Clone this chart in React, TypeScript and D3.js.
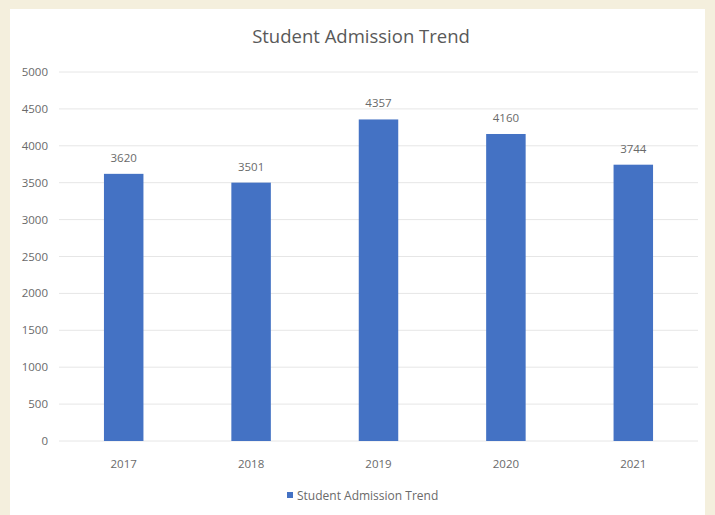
import React from "react";
import * as d3 from "d3";

const categories = ["2017", "2018", "2019", "2020", "2021"];
const values = [3620, 3501, 4357, 4160, 3744];
const yTicks = [0, 500, 1000, 1500, 2000, 2500, 3000, 3500, 4000, 4500, 5000];
const title = "Student Admission Trend";
const seriesName = "Student Admission Trend";

const W = 715;
const H = 515;

export default function App() {
  const x = d3.scaleBand<string>().domain(categories).range([60, 697]).paddingInner(0.69).paddingOuter(0.345);
  const y = d3.scaleLinear().domain([0, 5000]).range([441, 72]);
  const font = "'Open Sans', 'Noto Sans', sans-serif";
  const text = "#6a6a6a";
  return (
    <svg width={W} height={H} style={{ position: "absolute", left: 0, top: 0 }}>
      <rect x={0} y={0} width={W} height={H} fill="#f4efdd" />
      <rect x={10} y={9} width={695} height={H - 9} fill="#ffffff" />
      <text x={361} y={43} textAnchor="middle" fontFamily={font} fontSize={18.5} fill="#595959">{title}</text>
      {yTicks.map((t) => (
        <g key={t}>
          <line x1={59} x2={698} y1={y(t)} y2={y(t)} stroke="#e6e6e6" strokeWidth={1} />
          <text x={48} y={y(t)} dy="0.35em" textAnchor="end" fontFamily={font} fontSize={11.5} fill={text}>{t}</text>
        </g>
      ))}
      {categories.map((c, i) => (
        <g key={c}>
          <rect x={x(c)} y={y(values[i])} width={x.bandwidth()} height={y(0) - y(values[i])} fill="#4472c4" />
          <text x={(x(c) as number) + x.bandwidth() / 2} y={y(values[i]) - 12} textAnchor="middle" fontFamily={font} fontSize={11.5} fill={text}>{values[i]}</text>
          <text x={(x(c) as number) + x.bandwidth() / 2} y={468} textAnchor="middle" fontFamily={font} fontSize={11.5} fill={text}>{c}</text>
        </g>
      ))}
      <rect x={287} y={492} width={6} height={6} fill="#4472c4" />
      <text x={297} y={499.5} fontFamily={font} fontSize={12} fill={text}>{seriesName}</text>
    </svg>
  );
}
